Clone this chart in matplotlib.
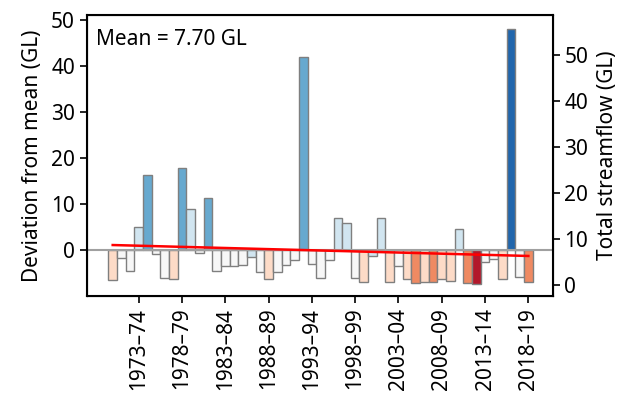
import numpy as np
import matplotlib
matplotlib.use("Agg")
import matplotlib.pyplot as plt

plt.rcParams['font.family'] = ['Noto Sans', 'DejaVu Sans']

# water years 1970-71 .. 2018-19
start_years = list(range(1970, 2019))
seasons = ['%d\u2013%02d' % (y, (y + 1) % 100) for y in start_years]

mean_flow = 7.70

# deviation from mean (GL)
deviation = [
    -6.5, -1.7, -4.6, 4.9, 16.4, -0.9, -6.2, -6.4, 17.9, 8.8,
    -0.65, 11.2, -4.5, -3.5, -3.5, -3.2, -1.45, -4.7, -6.4, -4.9,
    -3.2, -2.2, 42.0, -3.1, -6.2, -2.2, 7.0, 5.9, -6.2, -6.9,
    -1.3, 7.0, -6.9, -3.6, -6.4, -7.1, -6.9, -6.9, -6.4, -6.7,
    4.5, -7.1, -7.5, -2.7, -2.0, -6.4, 48.0, -5.9, -6.9,
]

# colour class for each year (0 = driest ... 6 = wettest)
flow_class = [
    2, 3, 3, 4, 5, 3, 3, 2, 5, 4,
    3, 5, 3, 3, 3, 3, 4, 3, 2, 3,
    3, 3, 5, 3, 3, 3, 4, 4, 3, 2,
    4, 4, 2, 3, 2, 1, 2, 1, 2, 2,
    4, 1, 0, 3, 3, 2, 6, 3, 1,
]

palette = ['#b2182b', '#ef8a62', '#fddbc7', '#f7f7f7', '#d1e5f0', '#67a9cf', '#2166ac']

x = np.arange(len(deviation))
colors = [palette[c] for c in flow_class]

fig = plt.figure(figsize=(6.33, 3.94), dpi=100)
ax = fig.add_axes([0.137, 0.249, 0.736, 0.713])

ax.bar(x, deviation, width=1.0, color=colors, edgecolor='#7f7f7f', linewidth=1.0, zorder=2)
ax.axhline(0, color='#a0a0a0', lw=1.5, zorder=2.5)

# linear trend
coef = np.polyfit(x, deviation, 1)
ax.plot(x, np.polyval(coef, x), color='red', lw=1.8, zorder=3)

fs = 15
ax.set_xlim(-3, 50.8)
ax.set_ylim(-10, 51.1)
ax.set_yticks([0, 10, 20, 30, 40, 50])
ax.set_xticks(x[3::5])
ax.set_xticklabels(seasons[3::5], rotation=90)
ax.set_ylabel('Deviation from mean (GL)', fontsize=fs, labelpad=6)
ax.tick_params(labelsize=fs, length=5, width=1.2)
for s in ax.spines.values():
    s.set_linewidth(1.5)

ax.text(0.02, 0.95, 'Mean = %.2f GL' % mean_flow, transform=ax.transAxes,
        fontsize=fs, va='top', ha='left')

ax2 = ax.twinx()
ax2.set_ylim(-10 + mean_flow, 51.1 + mean_flow)
ax2.set_yticks([0, 10, 20, 30, 40, 50])
ax2.set_ylabel('Total streamflow (GL)', fontsize=fs, labelpad=6)
ax2.tick_params(labelsize=fs, length=5, width=1.2)

fig.savefig('out.png', dpi=100)
